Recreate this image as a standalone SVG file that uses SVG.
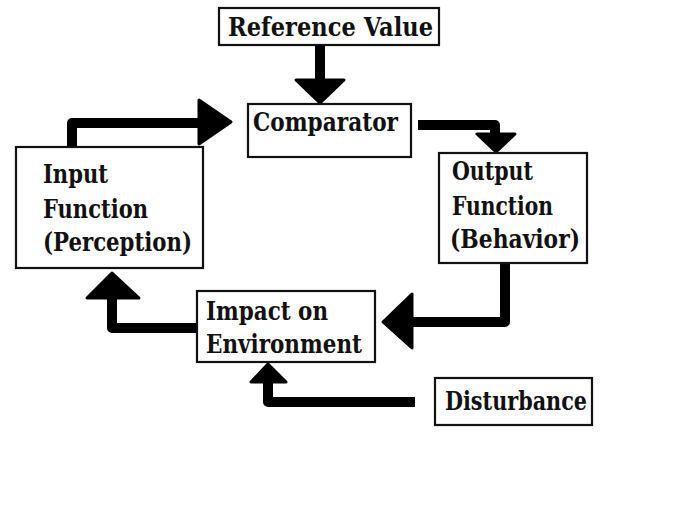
<svg xmlns="http://www.w3.org/2000/svg" width="686" height="510" viewBox="0 0 686 510">
<style>
.box{fill:#fff;stroke:#111;stroke-width:2.2}
.t{font-family:"DejaVu Serif","Liberation Serif",serif;font-weight:bold;font-size:26px;fill:#111}
.sh{fill:none;stroke:#000;stroke-width:10;stroke-linejoin:round}
.hd{fill:#000;stroke:#000;stroke-width:3;stroke-linejoin:round}
</style>
<rect width="686" height="510" fill="#fff"/>
<g id="connectors">
<path class="sh" d="M320,45 V82"/>
<polygon class="hd" points="296,80 344,80 320,103"/>
<path class="sh" d="M72,147 V123 H202"/>
<polygon class="hd" points="199,100 231,122 199,144"/>
<path class="sh" d="M418,125 H495 V136"/>
<polygon class="hd" points="477,134 515,134 496,152"/>
<path class="sh" d="M505,264 V322 H410"/>
<polygon class="hd" points="412,294 412,348 383,322"/>
<path class="sh" d="M197,328 H112 V296"/>
<polygon class="hd" points="87,298 139,298 112,273"/>
<path class="sh" d="M415,402 H268 V380"/>
<polygon class="hd" points="251,382 286,382 268,364"/>
</g>
<g id="reference">
<rect class="box" x="219" y="8" width="220" height="37"/>
<text class="t" x="228" y="36" textLength="205" lengthAdjust="spacingAndGlyphs">Reference Value</text>
</g>
<g id="comparator">
<rect class="box" x="248" y="104" width="163" height="53"/>
<text class="t" x="253" y="131" textLength="145" lengthAdjust="spacingAndGlyphs">Comparator</text>
</g>
<g id="input">
<rect class="box" x="16" y="147" width="187" height="121"/>
<text class="t" x="43" y="183" textLength="65" lengthAdjust="spacingAndGlyphs">Input</text>
<text class="t" x="43" y="218" textLength="105" lengthAdjust="spacingAndGlyphs">Function</text>
<text class="t" x="43" y="251" textLength="149" lengthAdjust="spacingAndGlyphs">(Perception)</text>
</g>
<g id="output">
<rect class="box" x="439" y="153" width="148" height="110"/>
<text class="t" x="452" y="180" textLength="81" lengthAdjust="spacingAndGlyphs">Output</text>
<text class="t" x="452" y="215" textLength="101" lengthAdjust="spacingAndGlyphs">Function</text>
<text class="t" x="450" y="248" textLength="130" lengthAdjust="spacingAndGlyphs">(Behavior)</text>
</g>
<g id="impact">
<rect class="box" x="197" y="291" width="178" height="71"/>
<text class="t" x="206" y="320" textLength="122" lengthAdjust="spacingAndGlyphs">Impact on</text>
<text class="t" x="206" y="353" textLength="156" lengthAdjust="spacingAndGlyphs">Environment</text>
</g>
<g id="disturbance">
<rect class="box" x="435" y="378" width="157" height="47"/>
<text class="t" x="445" y="410" textLength="142" lengthAdjust="spacingAndGlyphs">Disturbance</text>
</g>
</svg>
